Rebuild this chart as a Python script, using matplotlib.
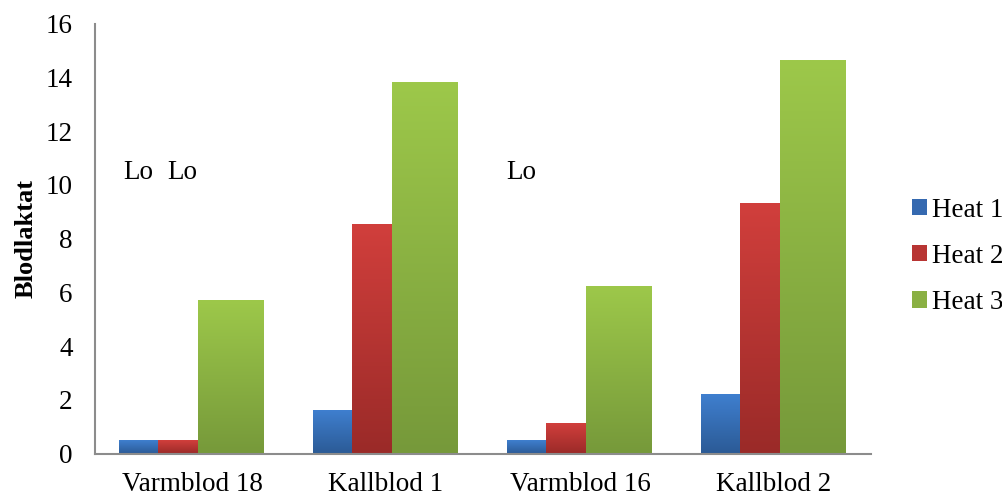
import numpy as np
import matplotlib.pyplot as plt
from matplotlib.colors import LinearSegmentedColormap
from matplotlib.patches import Patch

plt.rcParams['font.family'] = ['Liberation Serif', 'DejaVu Serif']

# Blodlaktat per häst och heat
horses = ["Varmblod 18", "Kallblod 1", "Varmblod 16", "Kallblod 2"]
heat_names = ["Heat 1", "Heat 2", "Heat 3"]
heat1 = [0.5, 1.62, 0.5, 2.21]
heat2 = [0.5, 8.54, 1.13, 9.33]
heat3 = [5.71, 13.82, 6.23, 14.64]

# "Lo" = under mätgränsen (häst, heat)
lo_marks = [(0, 0), (0, 1), (2, 0)]
lo_nudge = [0, 3, -4]   # små förskjutningar i punkter
lo_level = 10.45

# ljus topp, mörk botten
top_cols = ["#3f7fcf", "#d13f3c", "#9dc84a"]
bot_cols = ["#2b5a95", "#9a2a28", "#76993a"]
mid_cols = ["#3569b0", "#b83533", "#8ab043"]

# bredd och vänsterkant per serie (i kategorienheter)
lefts = [-0.375, -0.175, 0.03]
widths = [0.2, 0.205, 0.34]

FS = 19.5

fig = plt.figure(figsize=(10.03, 4.95), dpi=100)
ax = fig.add_axes([0.0947, 0.0838, 0.7737, 0.8687])

x = np.arange(len(horses))
grad = np.linspace(0, 1, 256).reshape(-1, 1)

for i, vals in enumerate([heat1, heat2, heat3]):
    cmap = LinearSegmentedColormap.from_list("g%d" % i, [bot_cols[i], top_cols[i]])
    bars = ax.bar(x + lefts[i], vals, widths[i], align="edge",
                  facecolor="none", edgecolor="none", zorder=2)
    for b in bars:
        x0, y0 = b.get_x(), b.get_y()
        im = ax.imshow(grad, cmap=cmap, origin="lower", aspect="auto",
                       extent=(x0, x0 + b.get_width(), y0, y0 + b.get_height()),
                       zorder=2)
        im.set_clip_path(b)

for (h, s), dx in zip(lo_marks, lo_nudge):
    xc = x[h] + lefts[s] + widths[s] / 2
    ax.annotate("Lo", (xc, lo_level), xytext=(dx, 0), textcoords="offset points",
                ha="center", va="center", fontsize=FS)

ax.set_xlim(-0.5, len(horses) - 0.5)
ax.set_ylim(0, 16)
ax.set_yticks(range(0, 17, 2))
ax.set_xticks(x)
ax.set_xticklabels(horses)
ax.tick_params(axis="both", length=0, labelsize=FS)
ax.tick_params(axis="x", pad=13)
ax.tick_params(axis="y", pad=16)

for side in ["top", "right"]:
    ax.spines[side].set_visible(False)
for side in ["left", "bottom"]:
    ax.spines[side].set_color("#8c8c8c")
    ax.spines[side].set_linewidth(1.5)

ax.text(-0.089, 0.5, "Blodlaktat", transform=ax.transAxes, rotation=90,
        ha="center", va="center", fontsize=19, fontweight="bold")

handles = [Patch(facecolor=c, edgecolor="none") for c in mid_cols]
fig.legend(handles, heat_names, loc="center left", bbox_to_anchor=(0.909, 0.482),
           frameon=False, fontsize=FS, handlelength=0.55, handleheight=0.55,
           handletextpad=0.2, labelspacing=0.78, borderaxespad=0, borderpad=0)

fig.savefig("out.png", dpi=100)
